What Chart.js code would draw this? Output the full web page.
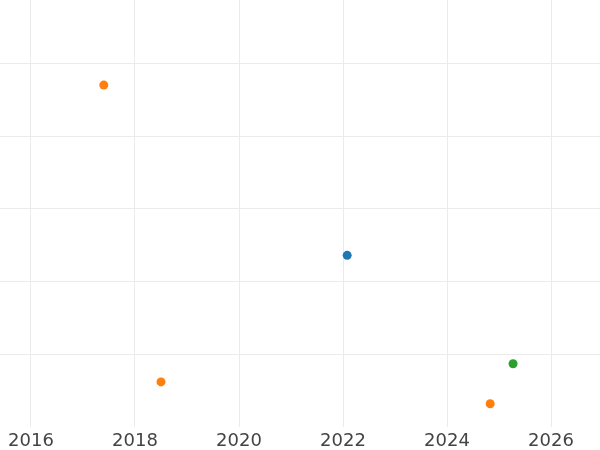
<!DOCTYPE html>
<html>
<head>
<meta charset="utf-8">
<script src="https://cdn.jsdelivr.net/npm/chart.js@4"></script>
<style>
  html, body { margin: 0; padding: 0; background: #fff; }
  #wrap { width: 600px; height: 450px; }
</style>
</head>
<body>
<div id="wrap"><canvas id="chart"></canvas></div>
<script>
// valores
const blueX = [2022.08];
const blueY = [2.36];
const orangeX = [2017.40, 2018.50, 2024.83];
const orangeY = [4.70, 0.62, 0.32];
const greenX = [2025.27];
const greenY = [0.87];
const xTicks = [2016, 2018, 2020, 2022, 2024, 2026];

function pontos(xs, ys) {
  return xs.map((x, i) => ({ x: x, y: ys[i] }));
}

const ctx = document.getElementById("chart").getContext("2d");

new Chart(ctx, {
  type: "scatter",
  data: {
    datasets: [
      { label: "a", data: pontos(blueX, blueY), backgroundColor: "#1f77b4", borderWidth: 0, pointRadius: 4.5 },
      { label: "b", data: pontos(orangeX, orangeY), backgroundColor: "#ff7f0e", borderWidth: 0, pointRadius: 4.5 },
      { label: "c", data: pontos(greenX, greenY), backgroundColor: "#2ca02c", borderWidth: 0, pointRadius: 4.5 },
    ],
  },
  options: {
    responsive: true,
    maintainAspectRatio: false,
    animation: false,
    layout: { padding: 0, autoPadding: false },
    plugins: { legend: { display: false }, tooltip: { enabled: false } },
    scales: {
      x: {
        type: "linear",
        min: 2015.404,
        max: 2026.942,
        afterBuildTicks: axis => { axis.ticks = xTicks.map(v => ({ value: v })); },
        afterFit: axis => { axis.height = 23; },
        grid: { color: "#ebebeb", lineWidth: 1, drawTicks: false },
        border: { display: false },
        ticks: {
          color: "#444",
          padding: 4,
          font: { family: "DejaVu Sans", size: 18 },
          maxRotation: 0,
          callback: v => String(v),
        },
      },
      y: {
        display: true,
        min: 0,
        max: 5.87,
        afterBuildTicks: axis => { axis.ticks = [1, 2, 3, 4, 5].map(v => ({ value: v })); },
        ticks: { display: false },
        grid: { drawTicks: false, lineWidth: 1, color: "#ebebeb" },
        border: { display: false },
      },
    },
  },
});
</script>
</body>
</html>
